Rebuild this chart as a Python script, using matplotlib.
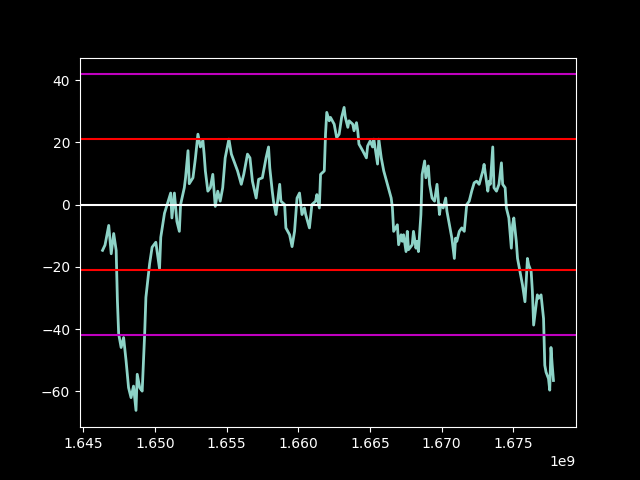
import numpy as np
import matplotlib
matplotlib.use('Agg')
import matplotlib.pyplot as plt

# daily series, day index counted from 2022-03-04 00:00 UTC
start_epoch = 1646352000
day = [0, 2, 5, 7, 9, 11, 12, 13, 15, 17, 19, 21, 23, 25, 27, 28, 30, 32, 34, 35,
       38, 40, 43, 46, 47, 50, 52, 55, 56, 58, 60, 62, 63, 66, 67, 69, 70, 73, 75, 77,
       79, 81, 82, 83, 85, 87, 89, 91, 93, 95, 97, 99, 102, 104, 106, 109, 112, 114, 117, 119,
       121, 124, 126, 129, 132, 134, 135, 137, 138, 140, 143, 144, 147, 148, 151, 153, 155, 157, 159, 161,
       163, 164, 167, 169, 172, 173, 175, 176, 179, 180, 181, 183, 184, 187, 189, 191, 193, 195, 196, 198,
       199, 202, 203, 205, 206, 207, 210, 213, 214, 216, 218, 219, 222, 223, 225, 227, 230, 233, 234, 235,
       238, 239, 241, 242, 243, 245, 246, 247, 250, 251, 253, 254, 255, 257, 258, 260, 261, 263, 264, 266,
       268, 270, 272, 273, 275, 277, 278, 280, 282, 284, 285, 286, 288, 290, 292, 294, 296, 298, 300, 302,
       304, 307, 308, 311, 312, 313, 315, 316, 318, 320, 322, 323, 325, 326, 328, 330, 331, 332, 334, 335,
       337, 339, 341, 342, 343, 344, 346, 347, 348, 350, 351, 352, 354, 356, 357, 358, 360, 361, 362, 363,
       364]
score = [-14.7, -13.0, -6.7, -15.8, -9.3, -14.7, -30.9, -41.5, -45.9, -42.7, -50.2, -58.8, -62.0, -58.3, -66.1, -54.5, -58.8, -59.9, -41.5, -29.8,
         -19.0, -13.7, -12.1, -20.6, -10.5, -2.8, -0.2, 3.7, -4.3, 3.7, -5.4, -8.6, 0.0, 5.4, 8.6, 17.3, 6.7, 8.6, 15.0, 22.6,
         18.5, 20.6, 16.2, 10.8, 4.3, 5.4, 9.7, -0.6, 4.3, 1.1, 5.4, 15.0, 21.0, 16.2, 14.0, 10.8, 6.5, 9.7, 16.2, 15.0,
         7.5, 2.1, 8.1, 8.6, 15.0, 18.5, 11.8, 4.3, 1.1, -3.2, 6.5, 1.1, 0.0, -7.5, -9.7, -13.5, -8.6, 2.1, 3.7, -3.2,
         -1.1, -3.2, -7.5, 0.0, 1.1, 3.2, -1.1, 9.7, 10.8, 22.6, 29.6, 26.9, 28.0, 25.8, 21.5, 22.6, 28.0, 31.2, 28.0, 24.8,
         26.9, 25.8, 23.7, 26.3, 23.7, 19.4, 17.3, 15.0, 18.8, 20.4, 18.5, 21.0, 13.0, 21.0, 15.0, 10.8, 6.5, 2.1, -1.1, -8.6,
         -6.5, -12.9, -9.7, -11.8, -9.7, -15.1, -8.6, -14.5, -12.9, -8.6, -14.0, -11.8, -15.1, -3.2, 9.7, 14.0, 8.6, 12.4, 6.5, 2.1,
         1.1, 6.5, -3.2, 0.0, -1.1, 2.1, -2.1, -6.5, -10.8, -17.3, -10.8, -11.8, -8.6, -7.5, -8.6, 0.0, 1.1, 4.3, 7.0, 7.5,
         6.5, 10.8, 12.9, 4.3, 7.5, 6.5, 18.5, 5.4, 4.3, 6.5, 13.4, 6.5, 5.4, -1.1, -4.3, -14.0, -6.5, -4.3, -11.8, -17.3,
         -21.5, -25.8, -31.2, -24.7, -17.3, -19.4, -21.5, -27.9, -38.7, -32.2, -29.0, -30.1, -29.0, -36.6, -51.6, -53.8, -55.9, -59.6, -45.9, -51.6,
         -56.5]

band_levels = [0.0, 20.9, -20.9, 41.8, -41.8]
band_colors = ['w', 'r', 'r', 'm', 'm']


def plot_score():
    plt.style.use('dark_background')
    fig, ax = plt.subplots(figsize=(6.4, 4.8), dpi=100)

    t = start_epoch + np.array(day) * 86400
    ax.plot(t, score, linewidth=2)

    for level, color in zip(band_levels, band_colors):
        ax.axhline(level, color=color)

    fig.savefig('out.png')


plot_score()
